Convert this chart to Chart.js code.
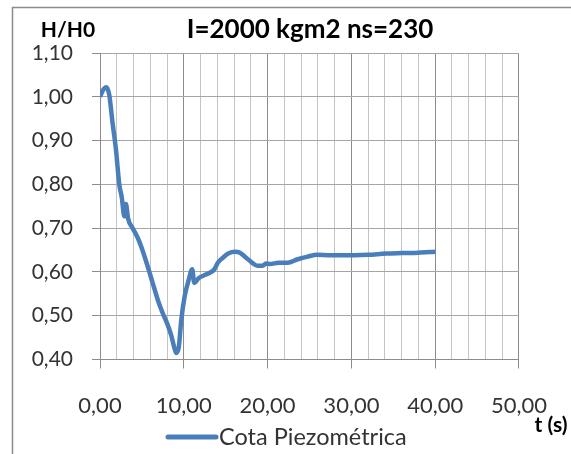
<!DOCTYPE html>
<html lang="pt">
<head>
  <meta charset="UTF-8">
  <title>Cota Piezométrica</title>
  <script src="https://cdn.jsdelivr.net/npm/chart.js"></script>
  <style>
    body { margin: 0; background: #fff; }
    #box { width: 571px; height: 454px; }
  </style>
</head>
<body>
  <div id="box"><canvas id="grafico" width="571" height="454"></canvas></div>

  <script>
    // tempo (s) e H/H0 da cota piezométrica
    const tempos = [0, 0.35, 0.75, 1.1, 1.5, 1.9, 2.3, 2.6, 2.9, 3.1, 3.35, 3.9, 4.5, 5.1, 5.7, 6.3, 6.9, 7.5,
      8.0, 8.5, 8.9, 9.1, 9.4, 9.7, 10.1, 10.6, 11.0, 11.25, 11.8, 12.5, 13.1, 13.6, 14.1, 14.7, 15.3, 16.1,
      16.7, 17.4, 18.1, 18.8, 19.4, 19.8, 20.3, 21.3, 22.4, 23.6, 24.8, 25.9, 27.5, 29.0, 30.4, 32.0, 34.2,
      36.0, 38.0, 40.0];
    const cotas = [1.000, 1.015, 1.022, 1.005, 0.940, 0.880, 0.800, 0.770, 0.727, 0.755, 0.722, 0.700, 0.678,
      0.648, 0.612, 0.574, 0.536, 0.505, 0.483, 0.455, 0.425, 0.415, 0.428, 0.490, 0.544, 0.583, 0.606, 0.575,
      0.586, 0.593, 0.598, 0.605, 0.622, 0.633, 0.642, 0.646, 0.644, 0.633, 0.622, 0.614, 0.614, 0.619, 0.618,
      0.621, 0.621, 0.629, 0.635, 0.639, 0.638, 0.638, 0.638, 0.639, 0.642, 0.643, 0.644, 0.646];

    const titulo = 'I=2000 kgm2 ns=230';
    const tituloY = 'H/H0';
    const tituloX = 't (s)';
    const serie = 'Cota Piezométrica';

    const azul = '#4a7ebb';
    const fonte = 'Lato, "Open Sans", sans-serif';
    const virgula = v => v.toFixed(2).replace('.', ',');

    // textos fora da área do gráfico: moldura, títulos e legenda
    const textos = {
      id: 'textos',
      beforeDraw(chart) {
        const c = chart.ctx;
        c.save();
        c.strokeStyle = '#8c8c8c';
        c.lineWidth = 1.5;
        c.beginPath();
        c.moveTo(12.5, 460);
        c.lineTo(12.5, 7.5);
        c.lineTo(580, 7.5);
        c.stroke();
        c.restore();
      },
      afterDraw(chart) {
        const c = chart.ctx;
        c.save();
        c.fillStyle = '#000';
        c.textBaseline = 'middle';
        c.textAlign = 'center';
        c.font = 'bold 26px ' + fonte;
        c.fillText(titulo, 310, 30);
        c.font = 'bold 21px ' + fonte;
        c.fillText(tituloY, 68, 30);
        c.fillText(tituloX, 551, 425);

        // legenda
        c.strokeStyle = azul;
        c.lineWidth = 5;
        c.lineCap = 'round';
        c.beginPath();
        c.moveTo(168, 437);
        c.lineTo(216, 437);
        c.stroke();
        c.textAlign = 'left';
        c.fillStyle = '#333';
        c.font = '23.5px ' + fonte;
        c.fillText(serie, 219, 437);
        c.restore();
      }
    };

    new Chart(document.getElementById('grafico'), {
      type: 'line',
      data: {
        datasets: [{
          label: serie,
          data: tempos.map((t, i) => ({ x: t, y: cotas[i] })),
          borderColor: azul,
          borderWidth: 4.5,
          pointRadius: 0,
          cubicInterpolationMode: 'monotone',
          fill: false
        }]
      },
      options: {
        responsive: false,
        animation: false,
        layout: { padding: { top: 53, right: 33, left: 0, bottom: 0 } },
        plugins: { legend: { display: false }, tooltip: { enabled: false } },
        scales: {
          x: {
            type: 'linear',
            min: 0,
            max: 50,
            afterFit: s => { s.height = 94.5; },
            border: { color: '#8c8c8c', width: 1 },
            grid: {
              color: ctx => ctx.tick && ctx.tick.value % 10 === 0 ? '#8c8c8c' : '#c4c4c4',
              tickColor: ctx => ctx.tick && ctx.tick.value % 10 === 0 ? '#8c8c8c' : 'rgba(0,0,0,0)',
              tickLength: 9
            },
            ticks: {
              stepSize: 2,
              autoSkip: false,
              maxRotation: 0,
              padding: 24,
              color: '#333',
              font: { family: fonte, size: 22 },
              callback: v => v % 10 === 0 ? virgula(v) : ''
            }
          },
          y: {
            min: 0.4,
            max: 1.1,
            afterFit: s => { s.width = 100; },
            border: { color: '#8c8c8c', width: 1 },
            grid: { color: '#a6a6a6', tickColor: '#8c8c8c', tickLength: 8 },
            ticks: {
              stepSize: 0.1,
              padding: 19,
              color: '#333',
              font: { family: fonte, size: 21 },
              callback: v => virgula(v)
            }
          }
        }
      },
      plugins: [textos]
    });
  </script>
</body>
</html>
